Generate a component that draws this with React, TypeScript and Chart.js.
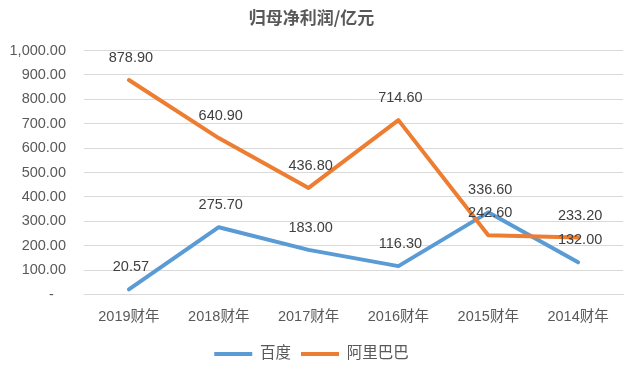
import React, { useEffect, useRef } from "react";
import { Chart, registerables } from "chart.js";

Chart.register(...registerables);

const categories = ["2019财年", "2018财年", "2017财年", "2016财年", "2015财年", "2014财年"];
const baiduValues = [20.57, 275.7, 183.0, 116.3, 336.6, 132.0];
const alibabaValues = [878.9, 640.9, 436.8, 714.6, 242.6, 233.2];
const seriesNames = ["百度", "阿里巴巴"];
const titleText = "归母净利润/亿元";

const FONT = "'Liberation Sans', 'Noto Sans CJK SC', sans-serif";

const fmt = (v: number) =>
  v.toLocaleString("en-US", { minimumFractionDigits: 2, maximumFractionDigits: 2 });

const dataLabelPlugin = {
  id: "dataLabels",
  afterDatasetsDraw(chart: any) {
    const ctx = chart.ctx;
    ctx.save();
    ctx.font = `14.5px ${FONT}`;
    ctx.fillStyle = "#404040";
    ctx.textAlign = "center";
    ctx.textBaseline = "middle";
    chart.data.datasets.forEach((ds: any, i: number) => {
      const meta = chart.getDatasetMeta(i);
      meta.data.forEach((pt: any, j: number) => {
        ctx.fillText(fmt(ds.data[j]), pt.x + 2, pt.y - 22);
      });
    });
    ctx.restore();
  },
};

export default function App() {
  const ref = useRef<HTMLCanvasElement>(null);
  useEffect(() => {
    document.body.style.margin = "0";
    const chart = new Chart(ref.current!, {
      type: "line",
      data: {
        labels: categories,
        datasets: [
          {
            label: seriesNames[0],
            data: baiduValues,
            borderColor: "#5B9BD5",
            backgroundColor: "#5B9BD5",
            borderWidth: 4,
            pointRadius: 0,
            borderCapStyle: "round",
            borderJoinStyle: "round",
            order: 1,
          },
          {
            label: seriesNames[1],
            data: alibabaValues,
            borderColor: "#ED7D31",
            backgroundColor: "#ED7D31",
            borderWidth: 4,
            pointRadius: 0,
            borderCapStyle: "round",
            borderJoinStyle: "round",
            order: 0,
          },
        ],
      },
      options: {
        responsive: false,
        animation: false,
        layout: { padding: { left: 0, right: 11, top: 0, bottom: 4.25 } },
        plugins: {
          title: {
            display: true,
            text: titleText,
            color: "#595959",
            font: { family: "'Noto Sans CJK SC', sans-serif", size: 17, weight: "bold" },
            padding: { top: 7, bottom: 23.1 },
          },
          legend: {
            position: "bottom",
            labels: {
              usePointStyle: true,
              pointStyle: "line",
              pointStyleWidth: 38,
              boxHeight: 15.5,
              padding: 10,
              color: "#595959",
              font: { family: FONT, size: 15.5 },
              sort: (a: any, b: any) => a.datasetIndex - b.datasetIndex,
            },
          },
          tooltip: { enabled: false },
        },
        scales: {
          x: {
            offset: true,
            grid: { display: false, drawTicks: false },
            border: { display: true, color: "#D9D9D9" },
            ticks: { color: "#595959", font: { family: FONT, size: 14.5 }, padding: 14, maxRotation: 0 },
            afterFit: (s: any) => {
              s.height = 41.75;
            },
          },
          y: {
            min: 0,
            max: 1000,
            grid: { color: "#D9D9D9", drawTicks: false },
            border: { display: false },
            ticks: {
              stepSize: 100,
              color: "#595959",
              font: { family: FONT, size: 14.5 },
              padding: 18,
              callback: (v: any) => (Number(v) === 0 ? "-\u00a0\u00a0\u00a0" : fmt(Number(v))),
            },
            afterFit: (s: any) => {
              s.width = 84;
            },
          },
        },
      },
      plugins: [dataLabelPlugin],
    } as any);
    return () => chart.destroy();
  }, []);
  return (
    <div style={{ width: 634, height: 376 }}>
      <canvas ref={ref} width={634} height={376} />
    </div>
  );
}
